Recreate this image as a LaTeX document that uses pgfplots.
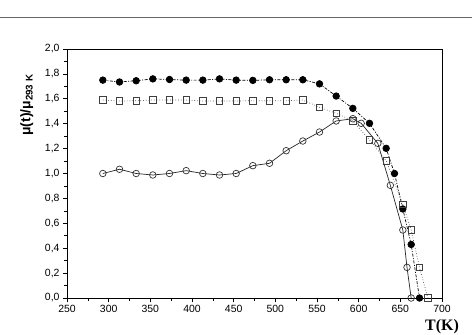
\documentclass[border=0pt]{standalone}
\usepackage{pgfplots}
\pgfplotsset{compat=1.18}
\usepackage{fontspec}
\setmainfont{Liberation Sans}
\newfontfamily\serifbf{Liberation Serif}
\begin{document}
\begin{tikzpicture}
\path[use as bounding box] (0,0) rectangle (472bp,335bp);
\draw[gray!80!black, line width=0.8bp] (0,318bp) -- (472bp,318bp);
\begin{axis}[
  at={(67bp,37bp)}, anchor=origin,
  scale only axis, width=375bp, height=249bp,
  xmin=250, xmax=700, ymin=0, ymax=2.0,
  xtick={250,300,...,700}, ytick={0,0.2,...,2.0},
  minor x tick num=1, minor y tick num=1,
  tick align=outside, xtick pos=bottom, ytick pos=left,
  major tick length=4bp, minor tick length=2.5bp,
  axis line style={black, line width=0.7bp},
  every tick/.style={black, line width=0.6bp},
  tick label style={font=\fontsize{10.5}{12}\selectfont},
  /pgf/number format/assume math mode=true,
  yticklabel style={/pgf/number format/.cd, fixed, fixed zerofill, precision=1, use comma},
  xticklabel style={/pgf/number format/.cd, fixed, precision=0, 1000 sep={}},
  xlabel={\serifbf\bfseries\fontsize{16}{18}\selectfont T(K)},
  xlabel style={at={(axis description cs:1.0,-0.115)}, anchor=center},
  ylabel={\bfseries\fontsize{14}{16}\selectfont μ(t)/μ\textsubscript{293 K}},
  ylabel style={at={(axis description cs:-0.107,0.775)}, anchor=center},
  clip=false,
]
\addplot[black, line width=0.7bp, dash pattern=on 3bp off 1.5bp on 1bp off 1.5bp, mark=*, mark size=3.3bp, mark options={solid, fill=black}] coordinates {
(293,1.75) (313,1.735) (333,1.745) (353,1.76) (373,1.755) (393,1.75) (413,1.75) (433,1.76) (453,1.75) (473,1.748) (493,1.753) (513,1.753) (533,1.753) (553,1.72) (573,1.622) (593,1.523) (613,1.403) (633,1.202) (643,1.0) (653,0.715) (663,0.43) (673,0)
};
\addplot[black!70, line width=0.7bp, dotted, mark=square, mark size=3.2bp, mark options={solid, fill=white, draw=black!75}] coordinates {
(293,1.59) (313,1.582) (333,1.585) (353,1.59) (373,1.59) (393,1.59) (413,1.582) (433,1.582) (453,1.582) (473,1.585) (493,1.585) (513,1.585) (533,1.59) (553,1.532) (573,1.483) (593,1.424) (613,1.27) (633,1.103) (653,0.752) (663,0.546) (673,0.246) (683,0)
};
\addplot[black!85, line width=0.7bp, solid, mark=o, mark size=3.3bp, mark options={solid, fill=white, draw=black!80}] coordinates {
(293,1.0) (313,1.034) (333,1.0) (353,0.988) (373,1.0) (393,1.023) (413,1.0) (433,0.988) (453,1.0) (473,1.063) (493,1.082) (513,1.183) (533,1.261) (553,1.333) (573,1.422) (593,1.44) (603,1.403) (623,1.242) (638,0.905) (653,0.546) (658,0.246) (663,0)
};
\end{axis}
\end{tikzpicture}
\end{document}
